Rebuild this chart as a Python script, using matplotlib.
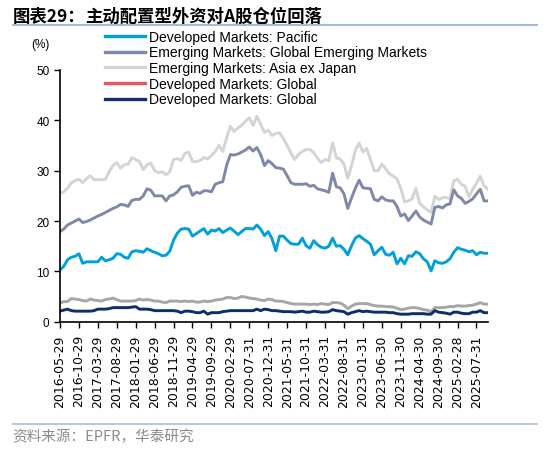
import matplotlib
matplotlib.use('Agg')
import matplotlib.pyplot as plt
from matplotlib.lines import Line2D

plt.rcParams['font.family'] = ['Liberation Sans', 'Noto Sans CJK SC', 'DejaVu Sans']

# 月度数据, 2016-05 到 2025-10
asia_ex_japan = [
    25.5, 25.8, 26.5, 27.6, 28.0, 28.3, 27.6, 28.4, 29.0, 28.2,
    28.2, 28.2, 28.3, 29.8, 31.0, 31.6, 30.5, 31.2, 31.3, 32.6,
    32.2, 31.8, 30.2, 31.2, 31.5, 30.0, 29.6, 29.8, 29.2, 29.8,
    32.2, 32.4, 32.0, 33.4, 33.7, 31.8, 31.8, 32.0, 32.6, 32.3,
    33.0, 33.8, 35.0, 33.8, 36.5, 38.8, 37.8, 38.5, 39.0, 39.8,
    40.5, 39.0, 40.8, 39.2, 37.6, 38.0, 37.0, 37.4, 37.5, 36.4,
    35.0, 33.5, 32.2, 33.2, 33.8, 34.2, 34.2, 33.6, 32.5, 31.6,
    32.2, 32.0, 35.5, 32.5, 32.3, 31.3, 28.5, 31.0, 34.0, 35.5,
    33.7, 34.4, 32.2, 30.0, 30.0, 31.3, 30.4, 29.4, 28.9, 28.4,
    26.5, 23.8, 24.0, 24.4, 26.5, 23.5, 22.8, 22.2, 21.7, 24.9,
    24.3, 24.6, 24.7, 24.4, 28.0, 28.3, 27.3, 26.9, 24.8, 26.3,
    27.5, 28.9, 27.0, 26.3,
]
global_em = [
    17.9, 18.4, 19.2, 19.6, 20.0, 20.4, 19.7, 19.9, 20.2, 20.6,
    21.0, 21.3, 21.7, 22.1, 22.5, 22.8, 23.3, 23.2, 22.9, 24.1,
    24.3, 24.3, 25.0, 26.4, 26.1, 25.0, 25.0, 25.0, 24.0, 25.0,
    25.2, 25.8, 26.7, 26.9, 27.0, 25.1, 25.7, 25.5, 26.0, 26.0,
    25.8, 27.3, 27.6, 27.8, 31.0, 33.2, 33.1, 33.3, 33.7, 34.1,
    34.7, 33.9, 34.6, 33.2, 31.0, 32.0, 31.4, 30.6, 30.5, 30.3,
    29.0, 27.6, 27.3, 27.3, 27.3, 27.4, 26.9, 27.1, 26.4, 26.2,
    26.0, 25.7, 29.5, 26.8, 26.6, 25.4, 22.5, 24.6, 26.5, 28.1,
    26.6, 26.5, 26.4, 24.3, 24.0, 24.8, 24.2, 24.0, 24.0, 22.9,
    21.0, 21.4, 20.1, 21.0, 22.0, 20.8, 20.2, 19.8, 19.4, 22.7,
    22.9, 22.6, 23.2, 23.4, 26.2, 25.0, 24.5, 23.5, 23.9, 24.4,
    25.4, 26.3, 24.0, 24.0,
]
pacific = [
    10.3, 11.0, 12.3, 12.8, 13.0, 13.5, 11.6, 11.9, 11.9, 11.9,
    11.9, 12.8, 12.1, 12.3, 12.6, 13.5, 13.4, 12.8, 12.6, 13.9,
    14.1, 14.0, 13.8, 14.5, 14.1, 13.8, 13.5, 13.1, 13.2, 14.0,
    16.2, 17.6, 18.4, 18.5, 18.4, 17.0, 17.5, 18.0, 18.5, 17.4,
    18.2, 18.0, 18.5, 17.7, 18.2, 18.6, 18.0, 17.3, 17.9, 18.5,
    18.5, 18.4, 19.2, 18.4, 17.1, 17.9, 16.5, 14.1, 17.0, 17.0,
    16.2, 15.5, 15.4, 15.4, 16.6, 15.1, 14.6, 16.1, 15.3, 14.8,
    14.6, 15.0, 16.6, 15.0, 15.1, 14.4, 13.3, 15.1, 16.6, 17.1,
    16.5, 16.0, 15.4, 13.3, 14.1, 14.8, 13.4, 13.2, 13.8, 11.5,
    12.6, 11.5, 13.1, 13.0, 13.9, 13.5, 12.5, 11.9, 10.1, 12.1,
    11.7, 11.6, 11.9, 12.5, 13.8, 14.7, 14.4, 14.2, 13.9, 14.1,
    13.3, 13.8, 13.6, 13.6,
]
dm_global_a = [
    3.7, 4.0, 4.0, 4.6, 4.5, 4.4, 4.2, 4.1, 4.5, 4.3,
    4.2, 4.1, 4.4, 4.5, 4.7, 4.4, 4.1, 4.1, 4.1, 4.1,
    4.2, 4.5, 4.3, 4.4, 4.3, 4.1, 4.1, 3.9, 3.8, 4.1,
    4.1, 4.1, 4.0, 4.1, 4.0, 4.1, 3.9, 3.9, 4.1, 4.0,
    4.1, 4.3, 4.4, 4.5, 4.8, 4.8, 4.6, 4.7, 5.0, 4.9,
    4.7, 4.6, 4.5, 4.3, 4.2, 4.5, 4.4, 4.1, 4.1, 4.0,
    3.8, 3.6, 3.5, 3.5, 3.5, 3.5, 3.4, 3.5, 3.4, 3.6,
    3.5, 3.4, 3.8, 3.8, 3.7, 3.3, 2.6, 3.1, 3.5, 3.6,
    3.6, 3.6, 3.4, 3.2, 3.1, 3.1, 3.0, 3.0, 2.9, 2.7,
    2.4, 2.5, 2.7, 2.8, 2.8, 2.6, 2.4, 2.3, 2.0, 2.8,
    2.8, 2.8, 2.9, 3.0, 3.0, 3.2, 3.1, 3.1, 3.2, 3.3,
    3.5, 3.8, 3.5, 3.5,
]
dm_global_b = [
    2.1, 2.3, 2.5, 2.2, 2.1, 2.1, 2.1, 2.1, 2.1, 2.2,
    2.5, 2.5, 2.5, 2.6, 2.8, 2.8, 2.8, 2.8, 2.8, 2.9,
    3.0, 2.5, 2.5, 2.5, 2.4, 2.2, 2.2, 2.2, 2.2, 2.2,
    2.2, 2.1, 1.8, 2.1, 2.1, 2.0, 1.8, 1.8, 2.1, 1.5,
    1.8, 1.8, 1.8, 2.0, 2.1, 2.2, 2.2, 2.2, 2.2, 2.2,
    2.2, 2.2, 2.5, 2.2, 2.5, 2.4, 2.2, 2.2, 2.1, 2.0,
    2.0, 2.0, 1.9, 2.0, 2.1, 1.9, 1.9, 2.1, 2.0, 1.9,
    1.9, 2.0, 2.4, 2.2, 2.1, 2.0, 1.5, 1.8, 2.0, 2.2,
    2.0, 2.1, 2.0, 1.9, 1.9, 1.9, 1.9, 1.8, 1.8, 1.6,
    1.5, 1.5, 1.5, 1.6, 1.6, 1.6, 1.6, 1.5, 1.5, 2.2,
    1.9, 1.8, 1.7, 1.5, 1.9, 1.9, 1.7, 1.6, 1.6, 1.9,
    1.9, 2.2, 1.8, 1.8,
]
tick_labels = [
    '2016-05-29', '2016-10-29', '2017-03-29', '2017-08-29', '2018-01-29',
    '2018-06-29', '2018-11-29', '2019-04-29', '2019-09-29', '2020-02-29',
    '2020-07-31', '2020-12-31', '2021-05-31', '2021-10-31', '2022-03-31',
    '2022-08-31', '2023-01-31', '2023-06-30', '2023-11-30', '2024-04-30',
    '2024-09-30', '2025-02-28', '2025-07-31',
]
labels = [
    'Developed Markets: Pacific',
    'Emerging Markets: Global Emerging Markets',
    'Emerging Markets: Asia ex Japan',
    'Developed Markets: Global',
    'Developed Markets: Global',
]
colors = ['#00A0DC', '#7F88A8', '#D4D4D4', '#E8575C', '#0E2D6D']

fig = plt.figure(figsize=(5.5, 4.52), dpi=100)
ax = fig.add_axes([0.109, 0.286, 0.778, 0.557])

x = list(range(len(pacific)))
lw = 2.1
ax.plot(x, asia_ex_japan, color=colors[2], lw=lw)
ax.plot(x, global_em, color=colors[1], lw=lw)
ax.plot(x, pacific, color=colors[0], lw=lw)
ax.plot(x, dm_global_a, color='#A6A6A6', lw=lw)
ax.plot(x, dm_global_b, color=colors[4], lw=lw)

ax.set_xlim(0, len(pacific) - 1)
ax.set_ylim(0, 50)
ax.set_yticks(range(0, 51, 10))
ax.set_xticks(range(0, len(pacific), 5))
ax.set_xticklabels(tick_labels, rotation=90, family='DejaVu Sans')
ax.tick_params(axis='both', labelsize=8.5, length=4, width=1, direction='out', color='black')
ax.tick_params(axis='x', labelsize=9, pad=5)
for s in ['top', 'right']:
    ax.spines[s].set_visible(False)
for s in ['left', 'bottom']:
    ax.spines[s].set_linewidth(1.2)

fig.text(0.073, 0.9, '(%)', fontsize=8.5, ha='center', va='center')

handles = [Line2D([0], [0], color=c, lw=2.4) for c in colors]
fig.legend(handles, labels, loc='upper left', bbox_to_anchor=(0.191, 0.932),
           frameon=False, fontsize=10, handlelength=2.9, handletextpad=0.3,
           labelspacing=0.12, borderaxespad=0, borderpad=0)

# 标题和来源
fig.text(0.024, 0.963, '图表29：', fontsize=12.5, fontweight='bold',
         family=['Noto Sans CJK SC'], va='center')
fig.text(0.155, 0.963, '主动配置型外资对A股仓位回落', fontsize=12.5,
         fontweight='bold', family=['Noto Sans CJK SC'], va='center')
fig.add_artist(Line2D([0.024, 0.976], [0.942, 0.942], color='#A9BDD2', lw=1.5))
fig.add_artist(Line2D([0.024, 0.976], [0.06, 0.06], color='#A9BDD2', lw=1.2))
fig.text(0.022, 0.033, '资料来源：EPFR，华泰研究', fontsize=10.5, color='#8C8C8C',
         family=['Noto Sans CJK SC'], va='center')

fig.savefig('out.png', dpi=100)
